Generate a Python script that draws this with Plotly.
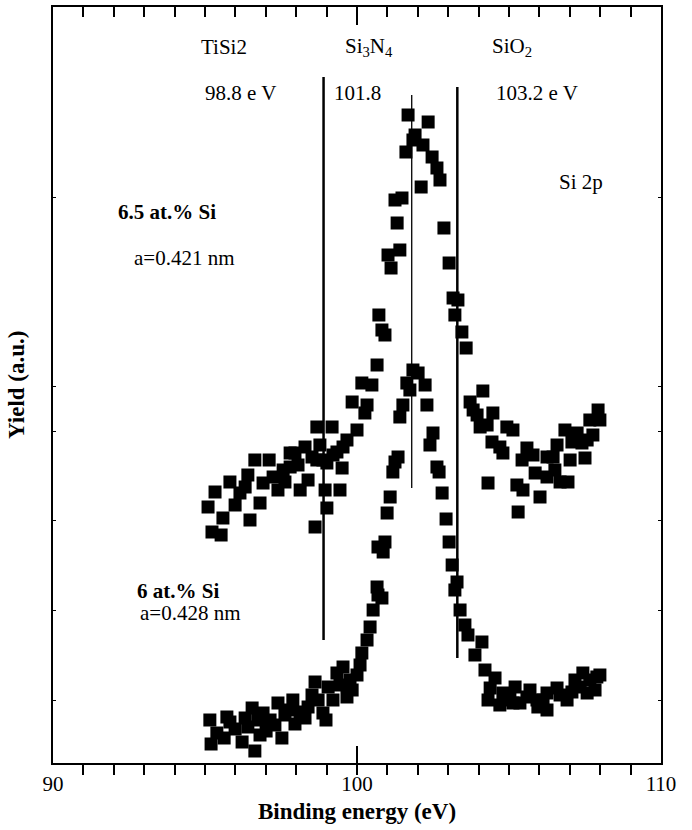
import plotly.graph_objects as go

# ---- data (binding energy in eV, yield in arbitrary units) ----
upper_energy = [95.10, 95.23, 95.33, 95.53, 95.59, 95.82, 95.99, 96.15, 96.32, 96.41, 96.48, 96.64,
                96.81, 96.91, 97.11, 97.24, 97.40, 97.57, 97.63, 97.80, 97.80, 97.96, 98.06, 98.13,
                98.29, 98.39, 98.52, 98.62, 98.68, 98.68, 98.78, 98.88, 98.95, 99.01, 99.01, 99.18,
                99.21, 99.34, 99.44, 99.51, 99.54, 99.67, 99.84, 100.00, 100.16, 100.26, 100.33, 100.49,
                100.66, 100.72, 100.82, 100.92, 101.02, 101.12, 101.25, 101.32, 101.41, 101.48, 101.61,
                101.68, 101.84, 101.91, 102.11, 102.17, 102.34, 102.47, 102.63, 102.73, 102.86, 103.03,
                103.16, 103.22, 103.32, 103.45, 103.59, 103.72, 103.82, 103.95, 104.05, 104.14, 104.28,
                104.31, 104.44, 104.47, 104.70, 104.80, 104.93, 105.13, 105.26, 105.30, 105.43, 105.46,
                105.59, 105.79, 105.86, 106.02, 106.25, 106.25, 106.45, 106.51, 106.58, 106.68, 106.84,
                106.94, 107.01, 107.07, 107.24, 107.40, 107.50, 107.57, 107.66, 107.76, 107.93, 107.99]
upper_yield = [256, 231, 271, 228, 245, 281, 258, 270, 276, 288, 243, 303,
               260, 280, 303, 286, 273, 293, 281, 296, 310, 310, 298, 273,
               316, 283, 306, 236, 336, 303, 318, 303, 273, 255, 300, 336,
               308, 311, 273, 295, 316, 323, 361, 333, 380, 350, 358, 378,
               398, 448, 433, 428, 508, 495, 563, 540, 513, 565, 611,
               648, 623, 628, 576, 618, 641, 606, 595, 583, 535, 500,
               465, 448, 463, 431, 415, 361, 353, 348, 336, 372, 338,
               280, 321, 350, 316, 310, 336, 333, 278, 251, 303, 273,
               315, 308, 290, 266, 306, 286, 306, 293, 318, 281, 333,
               281, 303, 321, 330, 320, 305, 323, 343, 328, 353, 343]

lower_energy = [95.16, 95.20, 95.39, 95.63, 95.72, 95.82, 95.99, 96.22, 96.32, 96.41, 96.55, 96.64,
                96.74, 96.81, 96.91, 97.01, 97.14, 97.30, 97.40, 97.53, 97.63, 97.80, 97.89, 97.96,
                98.13, 98.29, 98.39, 98.52, 98.62, 98.72, 98.88, 98.98, 99.05, 99.21, 99.34, 99.44,
                99.54, 99.67, 99.77, 99.84, 100.00, 100.10, 100.16, 100.33, 100.43, 100.53, 100.66,
                100.69, 100.69, 100.82, 100.86, 100.92, 100.99, 101.09, 101.18, 101.25, 101.35, 101.41,
                101.51, 101.64, 101.74, 101.84, 102.01, 102.24, 102.30, 102.40, 102.50, 102.63, 102.70,
                102.80, 102.93, 103.03, 103.13, 103.22, 103.29, 103.39, 103.55, 103.65, 103.88, 104.11,
                104.21, 104.31, 104.38, 104.54, 104.70, 104.80, 104.87, 105.03, 105.13, 105.20, 105.36,
                105.59, 105.69, 105.92, 105.95, 106.12, 106.25, 106.25, 106.58, 106.68, 106.91, 107.07,
                107.17, 107.34, 107.43, 107.57, 107.66, 107.83, 107.89, 107.99]
lower_yield = [43, 19, 30, 25, 46, 41, 34, 21, 45, 36, 55, 12,
               43, 28, 50, 32, 43, 38, 60, 25, 48, 53, 63, 39,
               51, 45, 56, 68, 81, 63, 50, 43, 76, 63, 90, 78,
               96, 66, 83, 73, 88, 98, 110, 123, 136, 153, 176,
               168, 216, 165, 211, 221, 250, 266, 291, 301, 306, 346,
               358, 380, 373, 393, 390, 378, 358, 318, 330, 296, 291,
               270, 244, 221, 198, 173, 181, 153, 138, 128, 108, 121,
               93, 63, 75, 85, 58, 70, 63, 68, 60, 76, 60,
               66, 73, 63, 56, 63, 70, 53, 75, 68, 63, 71,
               83, 76, 90, 70, 83, 73, 86, 88]

# reference lines: chemical-state positions
ref_energy = [98.9, 101.8, 103.3]
ref_top = [686, 668, 676]
ref_bottom = [123, 275, 105]
ref_width = [2.5, 1.3, 2.5]

x_ticks = [90, 100, 110]
y_ticks = [63, 153, 243, 332, 377, 566]

FONT = "Liberation Serif"

fig = go.Figure()

for e, t, b, w in zip(ref_energy, ref_top, ref_bottom, ref_width):
    fig.add_trace(go.Scatter(x=[e, e], y=[b, t], mode="lines",
                             line=dict(color="black", width=w), showlegend=False, hoverinfo="skip"))

for xs, ys in [(upper_energy, upper_yield), (lower_energy, lower_yield)]:
    fig.add_trace(go.Scatter(x=xs, y=ys, mode="markers",
                             marker=dict(symbol="square", size=13, color="black", line=dict(width=0)),
                             showlegend=False))

# empty trace to realise the top axis
fig.add_trace(go.Scatter(x=[None], y=[None], xaxis="x2", yaxis="y", showlegend=False, hoverinfo="skip"))

fig.update_layout(
    width=692, height=830,
    margin=dict(l=53, r=31, t=7, b=67),
    plot_bgcolor="white", paper_bgcolor="white",
    font=dict(family=FONT, size=21, color="black"),
    xaxis=dict(range=[90, 110], tickvals=x_ticks, ticktext=[str(v) for v in x_ticks],
               ticks="inside", ticklen=17, tickwidth=1.5, tickcolor="black",
               minor=dict(dtick=1, tick0=90, ticks="outside", ticklen=10, tickwidth=1.5, tickcolor="black"),
               showline=True, linecolor="black", linewidth=2, showgrid=False, zeroline=False,
               tickfont=dict(size=21), ticklabelstandoff=1),
    xaxis2=dict(range=[90, 110], overlaying="x", side="top", anchor="y",
                tickvals=[100], ticks="inside", ticklen=18, tickwidth=1.5, tickcolor="black",
                minor=dict(dtick=1, tick0=90, ticks="inside", ticklen=10, tickwidth=1.5, tickcolor="black"),
                showticklabels=False, showline=True, linecolor="black", linewidth=2,
                showgrid=False, zeroline=False),
    yaxis=dict(range=[0, 756], tickvals=y_ticks, showticklabels=False,
               ticks="inside", ticklen=3, tickwidth=1, tickcolor="black", mirror="ticks",
               showline=True, linecolor="black", linewidth=2, showgrid=False, zeroline=False),
)

# axis titles
fig.add_annotation(x=0.5, y=-0.0648, xref="paper", yref="paper", xanchor="center", yanchor="middle",
                   text="<b>Binding energy (eV)</b>", showarrow=False,
                   font=dict(family=FONT, size=23, color="black"))
fig.add_annotation(x=-0.0609, y=0.5, xref="paper", yref="paper", xanchor="center", yanchor="middle",
                   textangle=-90, text="<b>Yield (a.u.)</b>", showarrow=False,
                   font=dict(family=FONT, size=23, color="black"))

annotations = [
    ("TiSi2", 95.63, 716, False),
    ("Si<sub>3</sub>N<sub>4</sub>", 100.40, 716, False),
    ("SiO<sub>2</sub>", 105.10, 716, False),
    ("98.8 e V", 96.18, 670, False),
    ("101.8", 100.02, 670, False),
    ("103.2 e V", 105.92, 670, False),
    ("Si 2p", 107.37, 581, False),
    ("6.5 at.% Si", 93.75, 551, True),
    ("a=0.421 nm", 94.34, 505, False),
    ("6 at.% Si", 94.11, 172, True),
    ("a=0.428 nm", 94.51, 150, False),
]
for text, x, y, bold in annotations:
    fig.add_annotation(x=x, y=y, xref="x", yref="y", xanchor="center", yanchor="middle",
                       text=f"<b>{text}</b>" if bold else text,
                       showarrow=False, font=dict(family=FONT, size=21, color="black"))

fig.write_html("out.html", config={"displayModeBar": False},
               post_script="document.body.style.margin='0';")
